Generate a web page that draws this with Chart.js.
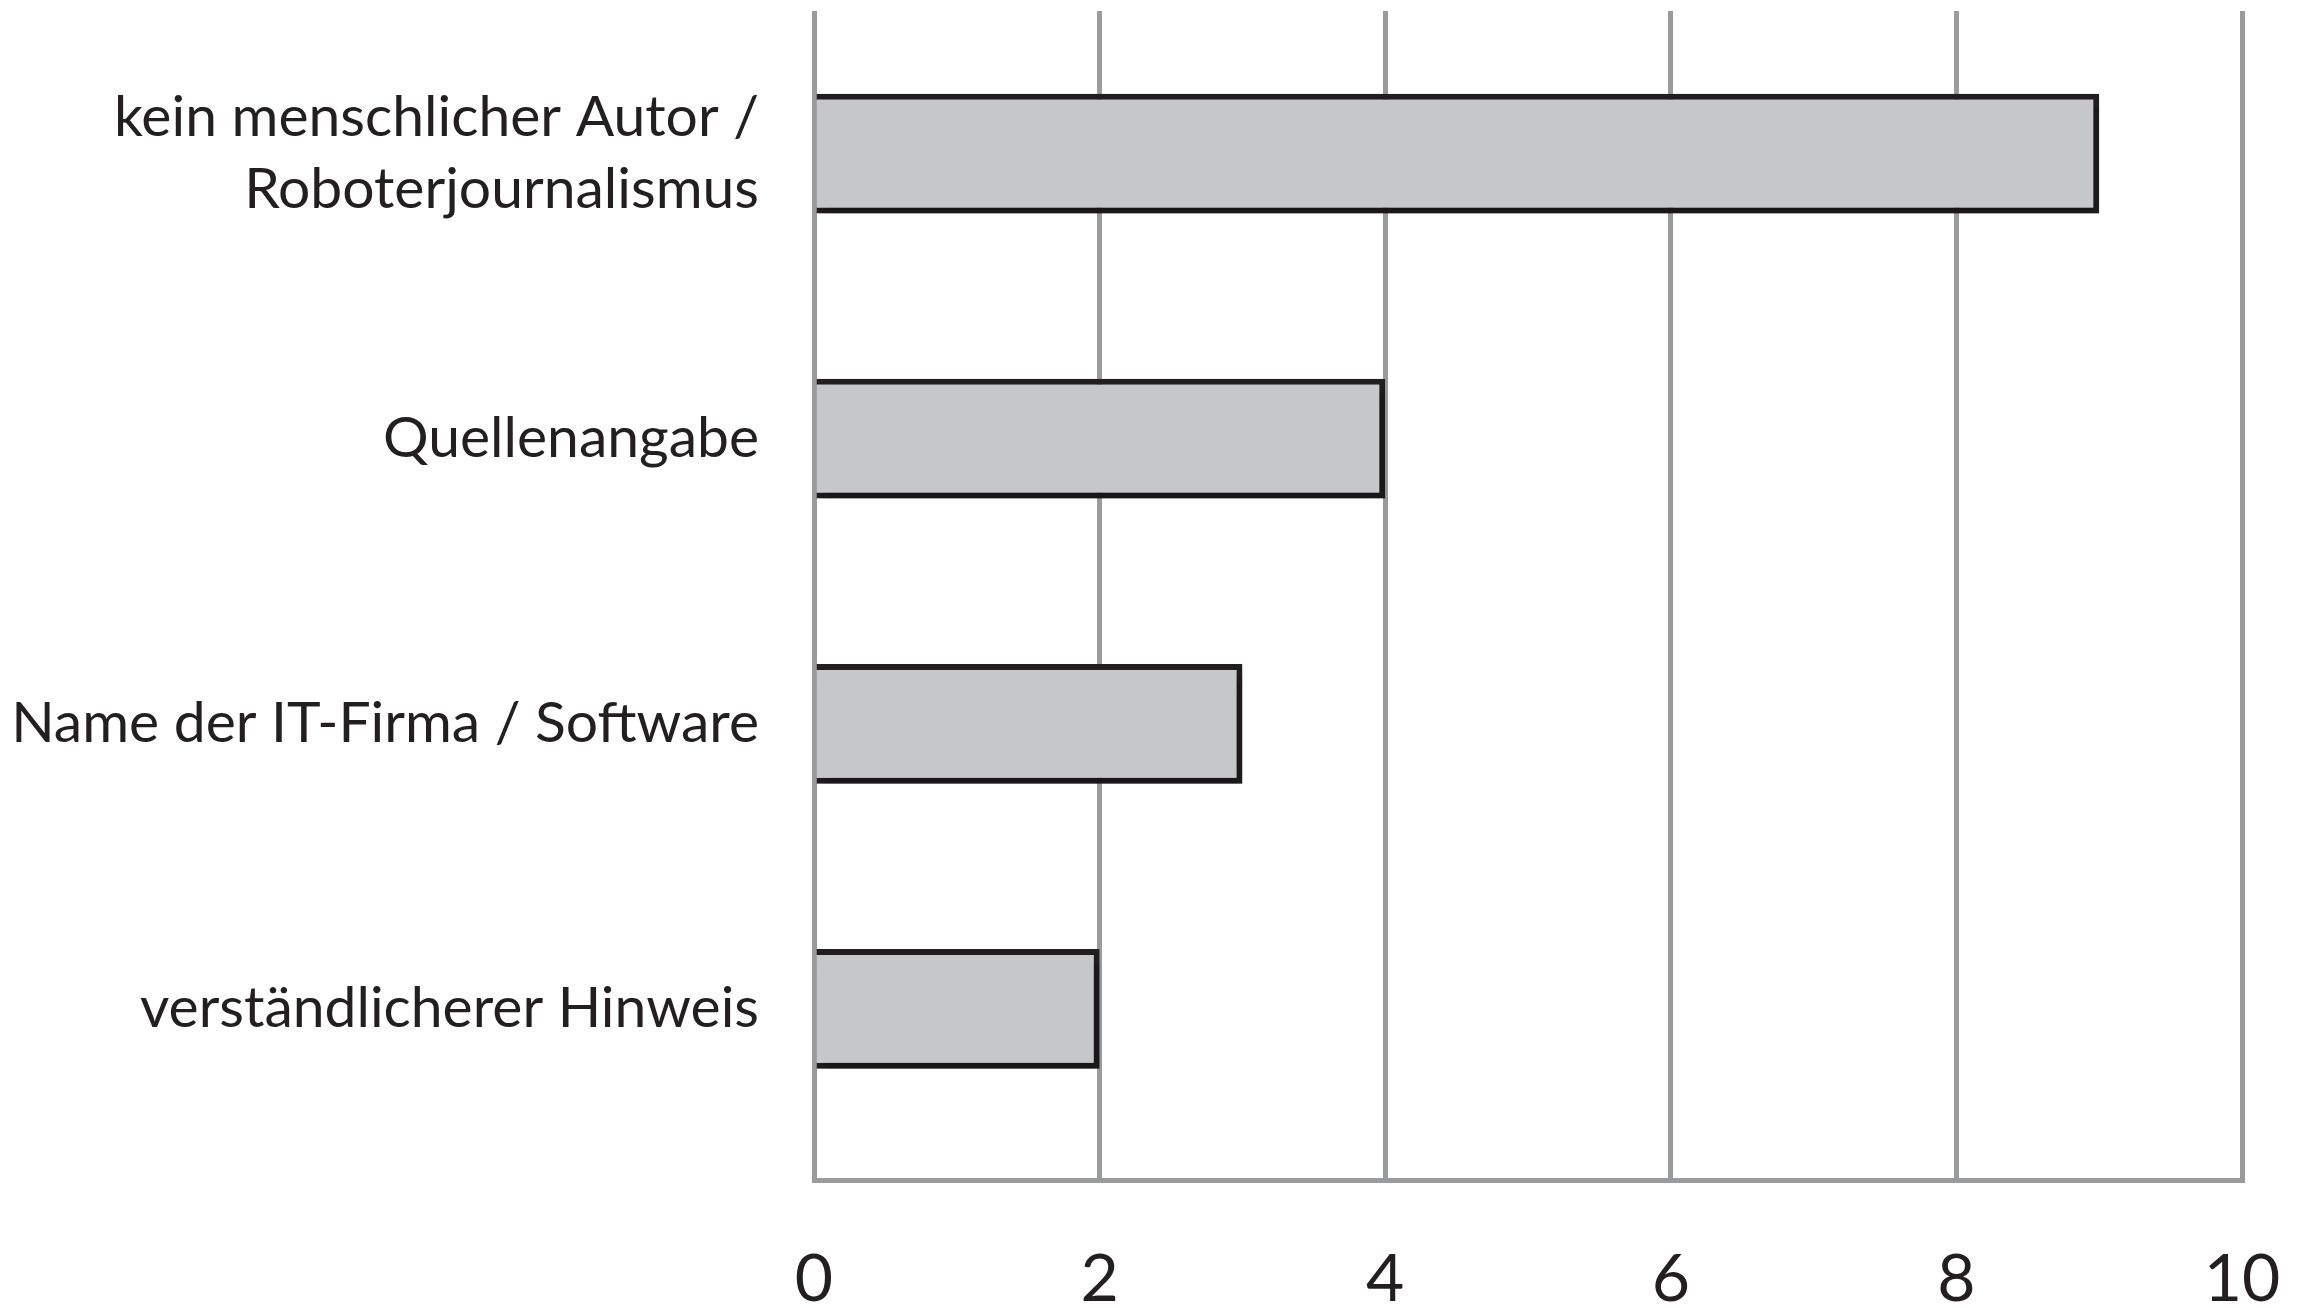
<!DOCTYPE html>
<html>
<head>
<meta charset="utf-8">
<script src="https://cdn.jsdelivr.net/npm/chart.js@4"></script>
<style>
  html, body { margin: 0; padding: 0; background: #ffffff; }
  #wrap { width: 2301px; height: 1308px; position: relative; }
</style>
</head>
<body>
<div id="wrap"><canvas id="c" width="2301" height="1308"></canvas></div>
<script>
// ---- data ----
const categories = [
  ["kein menschlicher Autor /", "Roboterjournalismus"],
  ["Quellenangabe"],
  ["Name der IT-Firma / Software"],
  ["verständlicherer Hinweis"]
];
const values = [9, 4, 3, 2];
const xTicks = [0, 2, 4, 6, 8, 10];

const FONT = "Lato";
const textColor = "#231f20";
const gridColor = "#9a9b9d";

const shadowPlugin = {
  id: 'barShadow',
  beforeDatasetsDraw(chart) {
    const ctx = chart.ctx;
    ctx.save();
    ctx.shadowColor = 'rgba(0,0,0,0.35)';
    ctx.shadowBlur = 12;
    ctx.shadowOffsetX = 4;
    ctx.shadowOffsetY = 8;
  },
  afterDatasetsDraw(chart) {
    chart.ctx.restore();
  }
};

new Chart(document.getElementById('c'), {
  type: 'bar',
  data: {
    datasets: [{
      data: values.map((v, i) => ({ x: v, y: i })),
      backgroundColor: '#c6c7c9',
      borderColor: '#231f20',
      borderWidth: 6,
      borderSkipped: 'start',
      barPercentage: 0.42,
      categoryPercentage: 1.0
    }]
  },
  plugins: [shadowPlugin],
  options: {
    indexAxis: 'y',
    responsive: false,
    animation: false,
    events: [],
    layout: { padding: { top: 11, right: 59, left: 0, bottom: 0 } },
    plugins: { legend: { display: false }, tooltip: { enabled: false } },
    scales: {
      x: {
        type: 'linear',
        min: 0,
        max: 10,
        afterBuildTicks(scale) { scale.ticks = xTicks.map(v => ({ value: v })); },
        afterFit(scale) { scale.height = 128; scale.paddingLeft = 0; scale.paddingRight = 0; },
        grid: { display: true, color: gridColor, lineWidth: 5, drawTicks: false },
        border: { display: true, color: gridColor, width: 5 },
        ticks: {
          color: textColor,
          padding: 60,
          font: { family: FONT, size: 66 }
        }
      },
      y: {
        type: 'linear',
        reverse: true,
        offset: false,
        min: -0.5,
        max: 3.6,
        afterBuildTicks(scale) { scale.ticks = categories.map((c, i) => ({ value: i })); },
        afterFit(scale) { scale.width = 814; scale.paddingTop = 0; scale.paddingBottom = 0; },
        grid: { display: false, drawTicks: false, offset: false },
        border: { display: false },
        ticks: {
          color: textColor,
          padding: 55,
          font: { family: FONT, size: 57, lineHeight: 1.26 },
          callback: (v) => categories[v]
        }
      }
    }
  }
});
</script>
</body>
</html>
